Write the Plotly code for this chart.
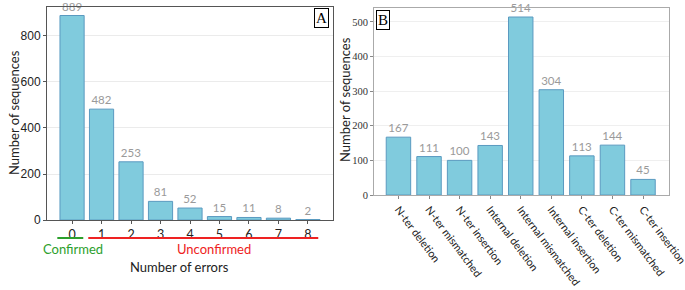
import plotly.graph_objects as go

# Panel A data
errors = ["0", "1", "2", "3", "4", "5", "6", "7", "8"]
counts_a = [889, 482, 253, 81, 52, 15, 11, 8, 2]

# Panel B data
error_types = ["N-ter deletion", "N-ter mismatched", "N-ter insertion",
               "Internal deletion", "Internal mismatched", "Internal insertion",
               "C-ter deletion", "C-ter mismatched", "C-ter insertion"]
counts_b = [167, 111, 100, 143, 514, 304, 113, 144, 45]

BAR = "#80CBDD"
EDGE = "#5A9AC0"
LBL = "#9a9a9a"
SANS = "Lato, 'Noto Sans', sans-serif"

fig = go.Figure()
fig.add_trace(go.Bar(x=list(range(len(errors))), y=counts_a, text=counts_a,
                     textposition="outside", cliponaxis=False,
                     textfont=dict(color=LBL, size=11.5, family=SANS),
                     marker=dict(color=BAR, line=dict(color=EDGE, width=1)),
                     width=0.82, xaxis="x", yaxis="y", showlegend=False))
fig.add_trace(go.Bar(x=list(range(len(error_types))), y=counts_b, text=counts_b,
                     textposition="outside", cliponaxis=False,
                     textfont=dict(color=LBL, size=11.5, family=SANS),
                     marker=dict(color=BAR, line=dict(color=EDGE, width=1)),
                     width=0.8, xaxis="x2", yaxis="y2", showlegend=False))

fig.update_layout(
    width=685, height=290, margin=dict(l=0, r=0, t=0, b=0),
    plot_bgcolor="white", paper_bgcolor="white",
    xaxis=dict(domain=[47/685, 333/685], range=[-0.85, 8.85],
               tickvals=list(range(len(errors))), ticktext=errors,
               ticks="outside", ticklen=3, tickcolor="#555",
               tickfont=dict(family=SANS, size=12.5, color="#222"),
               showline=True, linecolor="#555", mirror=True, showgrid=False,
               automargin=False, anchor="y"),
    yaxis=dict(domain=[70/290, 283/290], range=[0, 926],
               tickvals=[0, 200, 400, 600, 800],
               ticks="outside", ticklen=3, tickcolor="#555",
               tickfont=dict(family="Liberation Sans, Arial", size=12, color="#222"),
               showline=True, linecolor="#555", mirror=True,
               gridcolor="#ebebeb", zeroline=False,
               automargin=False, anchor="x"),
    xaxis2=dict(domain=[374/685, 669/685], range=[-0.8, 8.85],
                tickvals=list(range(len(error_types))), ticktext=error_types,
                tickangle=53, ticks="outside", ticklen=3, tickcolor="#888",
                tickfont=dict(family=SANS, size=10.8, color="#222"),
                ticklabeloverflow="allow",
                showline=True, linecolor="#aaa", mirror=True, showgrid=False,
                automargin=False, anchor="y2"),
    yaxis2=dict(domain=[95/290, 282/290], range=[0, 540],
                tickvals=[0, 100, 200, 300, 400, 500],
                ticks="outside", ticklen=3, tickcolor="#888",
                tickfont=dict(family="Liberation Serif, serif", size=10.5, color="#333"),
                showline=True, linecolor="#aaa", mirror=True,
                gridcolor="#efefef", zeroline=False,
                automargin=False, anchor="x2"),
)

# Y-axis titles
fig.add_annotation(text="Number of sequences", xref="paper", yref="paper",
                   x=14/685, y=(290-113)/290, textangle=-90,
                   xanchor="center", yanchor="middle", showarrow=False,
                   font=dict(family=SANS, size=13, color="#222"))
fig.add_annotation(text="Number of sequences", xref="paper", yref="paper",
                   x=345/685, y=(290-100)/290, textangle=-90,
                   xanchor="center", yanchor="middle", showarrow=False,
                   font=dict(family=SANS, size=13, color="#222"))

# Confirmed / Unconfirmed markers under panel A
fig.add_shape(type="line", xref="x", yref="paper", x0=-0.5, x1=0.38,
              y0=52/290, y1=52/290, line=dict(color="#2ca02c", width=2))
fig.add_shape(type="line", xref="x", yref="paper", x0=0.55, x1=8.35,
              y0=52/290, y1=52/290, line=dict(color="#ee2222", width=2))
fig.add_annotation(text="Confirmed", xref="x", yref="paper", x=0.03, y=41/290,
                   xanchor="center", yanchor="middle",
                   showarrow=False, font=dict(family=SANS, size=13, color="#2ca02c"))
fig.add_annotation(text="Unconfirmed", xref="x", yref="paper", x=4.8, y=41/290,
                   xanchor="center", yanchor="middle",
                   showarrow=False, font=dict(family=SANS, size=13, color="#ee2222"))
fig.add_annotation(text="Number of errors", xref="x", yref="paper", x=3.65, y=23/290,
                   xanchor="center", yanchor="middle",
                   showarrow=False, font=dict(family=SANS, size=13, color="#222"))

# Panel labels
fig.add_annotation(text="A", xref="paper", yref="paper", x=321.5/685, y=(290-18.5)/290,
                   xanchor="center", yanchor="middle",
                   showarrow=False, font=dict(family="Liberation Serif, serif", size=15, color="black"),
                   bordercolor="black", borderwidth=1, borderpad=1, bgcolor="white")
fig.add_annotation(text="B", xref="paper", yref="paper", x=382.5/685, y=(290-20.5)/290,
                   xanchor="center", yanchor="middle",
                   showarrow=False, font=dict(family="Liberation Serif, serif", size=15, color="black"),
                   bordercolor="black", borderwidth=1, borderpad=1, bgcolor="white")

fig.write_html("out.html", config={"displayModeBar": False},
               post_script="document.body.style.margin='0';document.body.style.overflow='hidden';")
